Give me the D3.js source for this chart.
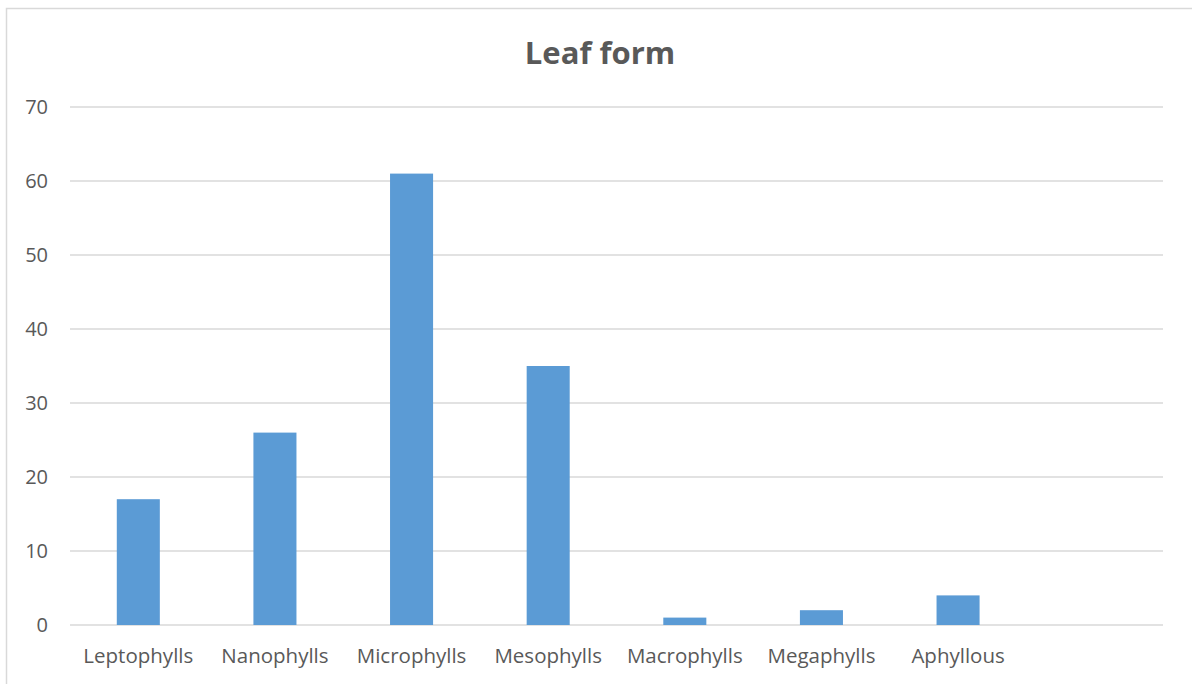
<!DOCTYPE html>
<html>
<head>
<meta charset="utf-8">
<script src="https://cdn.jsdelivr.net/npm/d3@7"></script>
<style>
  html, body { margin: 0; padding: 0; background: #fff; }
  svg { display: block; font-family: "Open Sans", "Noto Sans", sans-serif; }
</style>
</head>
<body>
<svg id="chart" width="1192" height="684"></svg>
<script>
// Leaf form counts per size class
const categories = ["Leptophylls", "Nanophylls", "Microphylls", "Mesophylls", "Macrophylls", "Megaphylls", "Aphyllous", ""];
const values = [17, 26, 61, 35, 1, 2, 4, null];
const yTicks = [0, 10, 20, 30, 40, 50, 60, 70];
const title = "Leaf form";

const svg = d3.select("#chart");
const W = 1192, H = 684;
const plot = { left: 70, right: 1163, top: 107, bottom: 625 };

// outer chart frame
svg.append("rect")
  .attr("x", 6.5).attr("y", 8.5)
  .attr("width", W).attr("height", H)
  .attr("fill", "#fff").attr("stroke", "#d9d9d9").attr("stroke-width", 1.5);

const x = d3.scaleBand()
  .domain(categories.map((c, i) => i))
  .range([plot.left, plot.right])
  .paddingInner(0.685).paddingOuter(0.3425);

const y = d3.scaleLinear().domain([0, 70]).range([plot.bottom, plot.top]);

// horizontal gridlines
svg.append("g")
  .selectAll("line")
  .data(yTicks)
  .join("line")
  .attr("x1", plot.left).attr("x2", plot.right)
  .attr("y1", d => y(d)).attr("y2", d => y(d))
  .attr("stroke", "#d9d9d9").attr("stroke-width", 1.5);

// y tick labels
const yAxis = d3.axisLeft(y).tickValues(yTicks).tickSize(0).tickPadding(0);
const gy = svg.append("g").attr("transform", "translate(48,0)").call(yAxis);
gy.select(".domain").remove();
gy.selectAll("text")
  .attr("fill", "#595959")
  .attr("font-size", 20)
  .attr("font-family", "Open Sans, sans-serif");

// bars
svg.append("g")
  .selectAll("rect")
  .data(values.map((v, i) => ({ v, i })).filter(d => d.v != null))
  .join("rect")
  .attr("x", d => x(d.i))
  .attr("width", x.bandwidth())
  .attr("y", d => y(d.v))
  .attr("height", d => y(0) - y(d.v))
  .attr("fill", "#5b9bd5");

// category labels
const xAxis = d3.axisBottom(x).tickFormat(i => categories[i]).tickSize(0).tickPadding(0);
const gx = svg.append("g").attr("transform", "translate(0,648.5)").call(xAxis);
gx.select(".domain").remove();
gx.selectAll("text")
  .attr("fill", "#595959")
  .attr("font-size", 20.5)
  .attr("font-family", "Open Sans, sans-serif");

// title
svg.append("text")
  .attr("x", 600).attr("y", 64)
  .attr("text-anchor", "middle")
  .attr("fill", "#595959")
  .attr("font-size", 31)
  .attr("font-weight", "bold")
  .attr("font-family", "Open Sans, sans-serif")
  .text(title);
</script>
</body>
</html>
